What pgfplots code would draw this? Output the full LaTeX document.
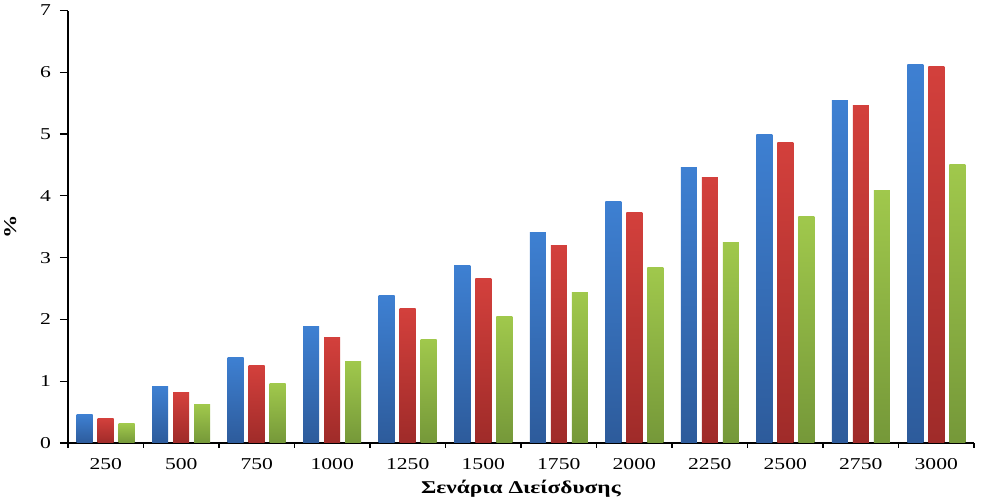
\documentclass[border=0pt]{standalone}
\usepackage{pgfplots}
\pgfplotsset{compat=1.18}
\usepackage{pgfplotstable}
\usepackage{fontspec}
\setmainfont{Liberation Serif}
\newfontfamily\wideserif[FakeStretch=1.3]{Liberation Serif}

\definecolor{blueT}{HTML}{3E80D2}
\definecolor{blueB}{HTML}{2D5B9B}
\definecolor{redT}{HTML}{D3403C}
\definecolor{redB}{HTML}{9F2B29}
\definecolor{greenT}{HTML}{A0C84C}
\definecolor{greenB}{HTML}{759839}

\pgfplotstableread{
x  a    b    c
0  0.46 0.40 0.31
1  0.92 0.81 0.62
2  1.39 1.25 0.96
3  1.88 1.70 1.32
4  2.38 2.18 1.68
5  2.87 2.67 2.04
6  3.40 3.19 2.43
7  3.91 3.73 2.84
8  4.46 4.30 3.25
9  5.00 4.87 3.66
10 5.54 5.47 4.09
11 6.12 6.10 4.51
}\scen

% one bar per \addplot so that every bar gets its own gradient
\pgfplotsset{
  onebar/.style n args={4}{ybar, bar width=8pt, bar shift=#2, draw=none,
    top color=#3, bottom color=#4,
    x filter/.expression={abs(x-#1)<0.1 ? x : nan}},
}

\begin{document}
\begin{tikzpicture}
\begin{axis}[
  scale only axis,
  width=453pt, height=216.25pt,
  xmin=-0.5, xmax=11.5,
  ymin=0, ymax=7,
  ytick={0,1,...,7},
  xtick={0,...,11},
  xticklabels={250,500,750,1000,1250,1500,1750,2000,2250,2500,2750,3000},
  minor xtick={-0.5,0.5,...,11.5},
  major x tick style={draw=none},
  tick align=outside,
  major tick length=4pt, minor tick length=2.5pt,
  axis x line*=bottom, axis y line*=left,
  axis line style={black, line width=0.6pt},
  tick style={black, line width=0.6pt},
  tick label style={font=\wideserif\fontsize{8.3}{10}\selectfont},
  yticklabel style={xshift=-1pt},
  /pgf/number format/assume math mode=true,
  xlabel={\textbf{Σενάρια Διείσδυσης}},
  ylabel={\textbf{\%}},
  label style={font=\wideserif\fontsize{9}{11}\selectfont},
  xlabel style={yshift=1.5pt},
  ylabel style={yshift=5pt},
  clip=false,
]
\pgfplotsinvokeforeach{0,...,11}{
  \addplot[onebar={#1}{-10.5pt}{blueT}{blueB}] table[x=x, y=a] {\scen};
  \addplot[onebar={#1}{0pt}{redT}{redB}] table[x=x, y=b] {\scen};
  \addplot[onebar={#1}{10.5pt}{greenT}{greenB}] table[x=x, y=c] {\scen};
}
\end{axis}
\pgfresetboundingbox
\path[use as bounding box] (-34pt,-27pt) rectangle (456.5pt,221.5pt);
\end{tikzpicture}
\end{document}
